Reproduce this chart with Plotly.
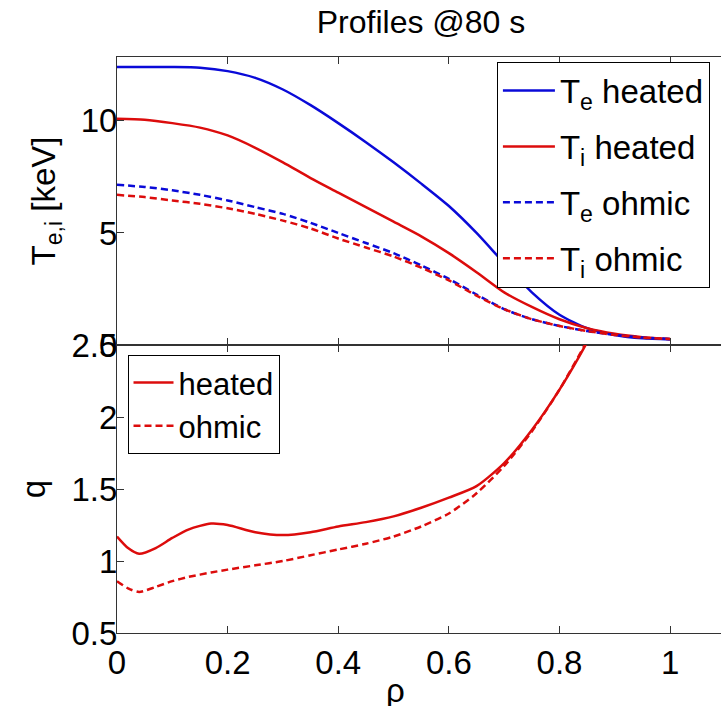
import plotly.graph_objects as go
from plotly.subplots import make_subplots

rho_T = [0, 0.05, 0.1, 0.15, 0.2, 0.25, 0.3, 0.35, 0.4, 0.45, 0.5, 0.55, 0.6, 0.65, 0.7, 0.75, 0.8, 0.85, 0.9, 0.95, 1.0]
Te_heated = [12.4, 12.4, 12.4, 12.37, 12.22, 11.92, 11.4, 10.7, 9.9, 9.05, 8.15, 7.2, 6.2, 5.0, 3.65, 2.35, 1.35, 0.75, 0.45, 0.3, 0.25]
Ti_heated = [10.1, 10.05, 9.9, 9.7, 9.35, 8.8, 8.15, 7.45, 6.8, 6.15, 5.5, 4.85, 4.1, 3.25, 2.35, 1.7, 1.15, 0.75, 0.5, 0.35, 0.27]
Te_ohmic = [7.15, 7.05, 6.9, 6.7, 6.45, 6.15, 5.85, 5.45, 5.0, 4.55, 4.1, 3.55, 2.95, 2.25, 1.6, 1.15, 0.85, 0.62, 0.45, 0.33, 0.27]
Ti_ohmic = [6.7, 6.6, 6.45, 6.3, 6.1, 5.85, 5.55, 5.2, 4.75, 4.35, 3.95, 3.45, 2.88, 2.2, 1.6, 1.15, 0.85, 0.62, 0.45, 0.33, 0.27]

rho_q = [0, 0.02, 0.04, 0.07, 0.1, 0.13, 0.17, 0.2, 0.25, 0.3, 0.35, 0.4, 0.45, 0.5, 0.55, 0.6, 0.65, 0.7, 0.75, 0.8, 0.85, 0.9]
q_heated = [1.17, 1.09, 1.05, 1.09, 1.16, 1.22, 1.26, 1.25, 1.20, 1.18, 1.20, 1.24, 1.27, 1.31, 1.37, 1.44, 1.52, 1.68, 1.91, 2.19, 2.52, 2.9]
q_ohmic = [0.86, 0.81, 0.785, 0.82, 0.86, 0.89, 0.92, 0.94, 0.97, 1.00, 1.04, 1.08, 1.12, 1.17, 1.24, 1.33, 1.47, 1.66, 1.90, 2.19, 2.53, 2.9]

BLUE = "#0a0ad8"
RED = "#dc0c0c"
FONT = "Liberation Sans, Arial, sans-serif"
DASH = "7px,4px"
FS = 33

fig = make_subplots(rows=2, cols=1, shared_xaxes=True, vertical_spacing=0)

def add(x, y, name, color, dash, row, legend, grp):
    fig.add_trace(go.Scatter(x=x, y=y, mode="lines", name=name,
                             line=dict(color=color, width=2.5, dash=dash, shape="spline", smoothing=0.7),
                             legend=legend, legendgroup=grp), row=row, col=1)

add(rho_T, Te_heated, "T<sub>e</sub> heated", BLUE, "solid", 1, "legend", "a")
add(rho_T, Ti_heated, "T<sub>i</sub> heated", RED, "solid", 1, "legend", "b")
add(rho_T, Te_ohmic, "T<sub>e</sub> ohmic", BLUE, DASH, 1, "legend", "c")
add(rho_T, Ti_ohmic, "T<sub>i</sub> ohmic", RED, DASH, 1, "legend", "d")
add(rho_q, q_heated, "heated", RED, "solid", 2, "legend2", "e")
add(rho_q, q_ohmic, "ohmic", RED, DASH, 2, "legend2", "f")

axis_common = dict(showline=True, linecolor="#333333", linewidth=1, ticks="inside", ticklen=7,
                   tickcolor="#333333", showgrid=False, zeroline=False, automargin=False,
                   tickfont=dict(size=FS, color="black", family=FONT))

fig.update_xaxes(range=[0, 1.092], mirror="ticks", tickvals=[0, 0.2, 0.4, 0.6, 0.8, 1],
                 ticktext=["0", "0.2", "0.4", "0.6", "0.8", "1"], **axis_common)
fig.update_xaxes(showticklabels=False, row=1, col=1)

fig.update_yaxes(range=[0, 12.85], tickvals=[0, 5, 10], ticktext=["0", "5", "10"], ticklabelstandoff=-8,
                 title=dict(text="T<sub>e,i</sub> [keV]", font=dict(size=FS, family=FONT, color="black")),
                 row=1, col=1, **axis_common)
fig.update_yaxes(range=[0.5, 2.5], tickvals=[0.5, 1, 1.5, 2, 2.5], ticktext=["0.5", "1", "1.5", "2", "2.5"],
                 ticklabelstandoff=-8,
                 title=dict(text="q", font=dict(size=FS, family=FONT, color="black")),
                 row=2, col=1, **axis_common)

fig.add_annotation(text="ρ", xref="paper", yref="paper", x=(395 - 117) / 604, y=-(690 - 633) / 576,
                   xanchor="center", yanchor="middle", showarrow=False,
                   font=dict(size=FS, family=FONT, color="black"))

fig.update_layout(
    width=721, height=706,
    margin=dict(l=117, r=0, t=57, b=73),
    paper_bgcolor="white", plot_bgcolor="white",
    title=dict(text="Profiles @80 s", x=(117 + 725) / 2 / 721, xanchor="center", y=1 - 22 / 706, yanchor="middle",
               font=dict(size=32, family=FONT, color="black")),
    legend=dict(x=0.629, y=0.992, xanchor="left", yanchor="top", bgcolor="white", bordercolor="black",
                borderwidth=1, font=dict(size=FS, family=FONT, color="black"), tracegroupgap=10,
                itemwidth=52),
    legend2=dict(x=0.0174, y=0.483, xanchor="left", yanchor="top", bgcolor="white", bordercolor="black",
                 borderwidth=1, font=dict(size=31, family=FONT, color="black"), tracegroupgap=0,
                 itemwidth=40),
    showlegend=True,
)

fig.write_html("out.html")
